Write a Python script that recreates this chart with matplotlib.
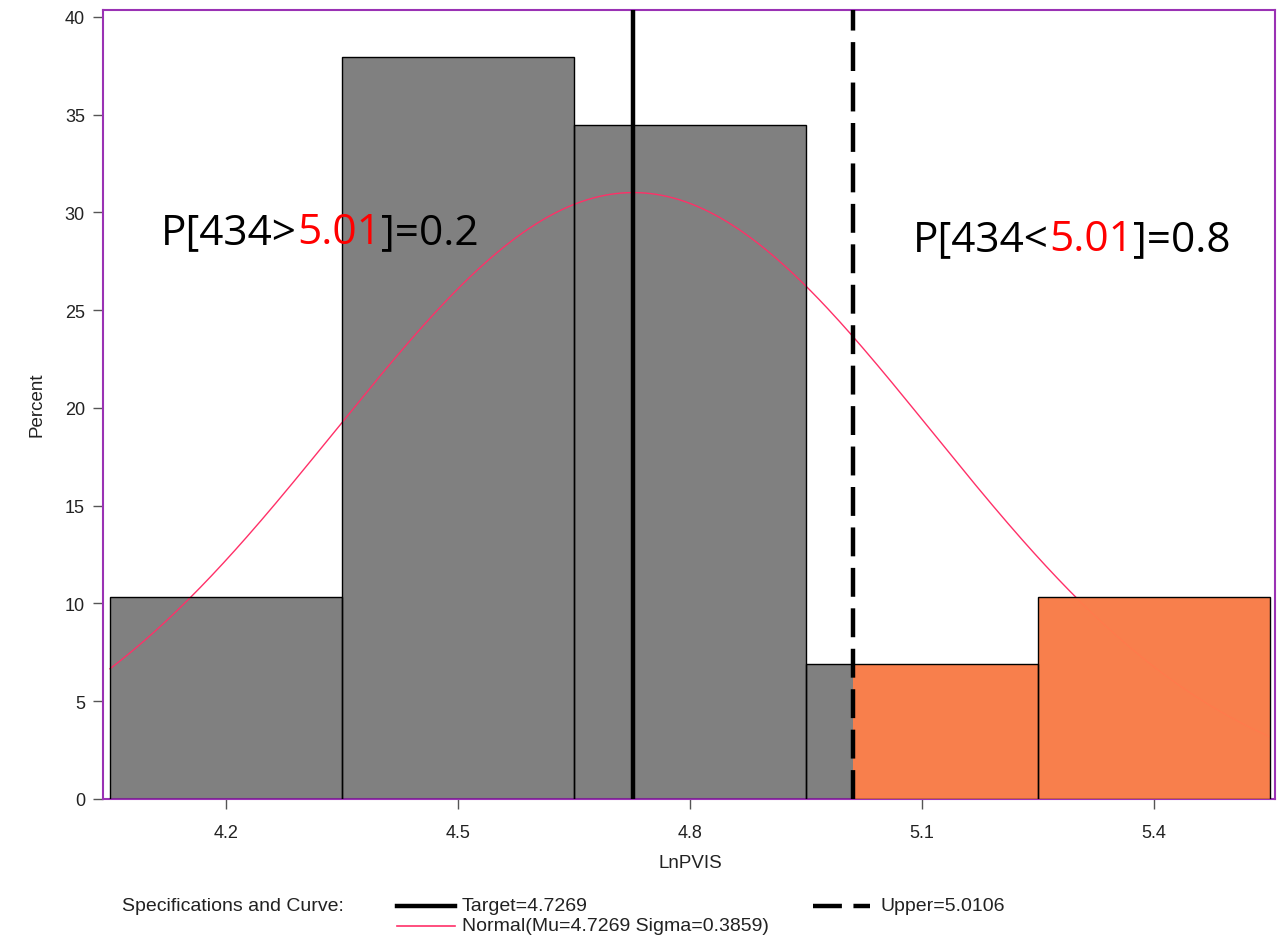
import numpy as np
import matplotlib
matplotlib.use("Agg")
import matplotlib.pyplot as plt
from matplotlib.lines import Line2D

# ---- data ----
bin_edges = [4.05, 4.35, 4.65, 4.95, 5.25, 5.55]
percents = [10.34, 37.93, 34.48, 6.90, 10.34]
x_ticks = [4.2, 4.5, 4.8, 5.1, 5.4]
y_ticks = [0, 5, 10, 15, 20, 25, 30, 35, 40]
target = 4.7269
upper = 5.0106
mu = 4.7269
sigma = 0.3859
left_note = ["P[434>", "5.01", "]=0.2"]
right_note = ["P[434<", "5.01", "]=0.8"]

W, H = 1285, 937
fig = plt.figure(figsize=(W / 100, H / 100), dpi=100)
ax = fig.add_axes([103 / W, 1 - 800 / H, (1275 - 103) / W, (800 - 11) / H])

gray = "#808080"
orange = "#FF7F4A"
purple = "#9A32B4"

lefts = np.array(bin_edges[:-1])
rights = np.array(bin_edges[1:])
widths = rights - lefts
heights = np.array(percents)

# gray bars
ax.bar(lefts, heights, width=widths, align="edge", color=gray, edgecolor="none", zorder=1)

# normal curve
xs = np.linspace(bin_edges[0], bin_edges[-1], 400)
bw = widths[0]
ys = 100 * bw * np.exp(-0.5 * ((xs - mu) / sigma) ** 2) / (sigma * np.sqrt(2 * np.pi))
ax.plot(xs, ys, color="#FF3068", lw=1.0, zorder=2)

# orange region beyond upper spec
o_left = np.maximum(lefts, upper)
mask = rights > upper
ax.bar(o_left[mask], heights[mask], width=(rights - o_left)[mask], align="edge",
       color=orange, edgecolor="none", alpha=0.95, zorder=3)

# outlines
ax.bar(lefts, heights, width=widths, align="edge", fill=False, edgecolor="black", lw=1.0, zorder=4)

# spec lines
ax.axvline(target, color="black", lw=3.2, zorder=5)
ax.axvline(upper, color="black", lw=3.2, dashes=(6.5, 2.6), zorder=5)

ax.set_xlim(4.041, 5.557)
ax.set_ylim(0, 40.35)
ax.set_xticks(x_ticks)
ax.set_xticklabels([f"{t:.1f}" for t in x_ticks])
ax.set_yticks(y_ticks)
ax.set_yticklabels([str(t) for t in y_ticks])
ax.tick_params(axis="both", direction="out", length=7, width=1, color="#555555",
               labelsize=13, labelcolor="#222222")
ax.tick_params(axis="x", pad=11)
ax.tick_params(axis="y", pad=6)
for lab in ax.get_xticklabels() + ax.get_yticklabels():
    lab.set_family("Liberation Sans")
for s in ax.spines.values():
    s.set_color(purple)
    s.set_linewidth(1.5)

fig.text(37 / W, 1 - 405 / H, "Percent", rotation=90, ha="center", va="center",
         fontsize=13.5, family="Liberation Sans", color="#222222")
fig.text(690 / W, 1 - 864 / H, "LnPVIS", ha="center", va="center",
         fontsize=13.5, family="Liberation Sans", color="#222222")

# annotations with mixed colours
def colored_text(x, y, parts):
    colors = ["black", "red", "black"]
    prev = fig.text(x, y, parts[0], fontsize=30.5, family="Open Sans",
                    color=colors[0], ha="left", va="baseline", zorder=6)
    for p, c in zip(parts[1:], colors[1:]):
        prev = ax.annotate(p, xy=(1, y), xycoords=(prev, fig.transFigure),
                           ha="left", va="baseline",
                           fontsize=30.5, family="Open Sans", color=c, zorder=6,
                           annotation_clip=False)

colored_text(161 / W, 1 - 244 / H, left_note)
colored_text(913 / W, 1 - 251 / H, right_note)

# legend
lf = dict(fontsize=14, family="Liberation Sans", color="#222222", va="center")
row1, row2 = 907, 927
fig.text(122 / W, 1 - row1 / H, "Specifications and Curve:", ha="left", **lf)
fig.add_artist(Line2D([397 / W, 455 / W], [1 - row1 / H] * 2, color="black", lw=3.2,
                      transform=fig.transFigure))
fig.text(462 / W, 1 - row1 / H, f"Target={target:.4f}", ha="left", **lf)
fig.add_artist(Line2D([397 / W, 455 / W], [1 - row2 / H] * 2, color="#FF3068", lw=1.2,
                      transform=fig.transFigure))
fig.text(462 / W, 1 - row2 / H, f"Normal(Mu={mu:.4f} Sigma={sigma:.4f})", ha="left", **lf)
fig.add_artist(Line2D([813 / W, 870 / W], [1 - row1 / H] * 2, color="black", lw=3.2,
                      dashes=(6.5, 2.6), transform=fig.transFigure))
fig.text(880 / W, 1 - row1 / H, f"Upper={upper:.4f}", ha="left", **lf)

fig.savefig("out.png", dpi=100)
